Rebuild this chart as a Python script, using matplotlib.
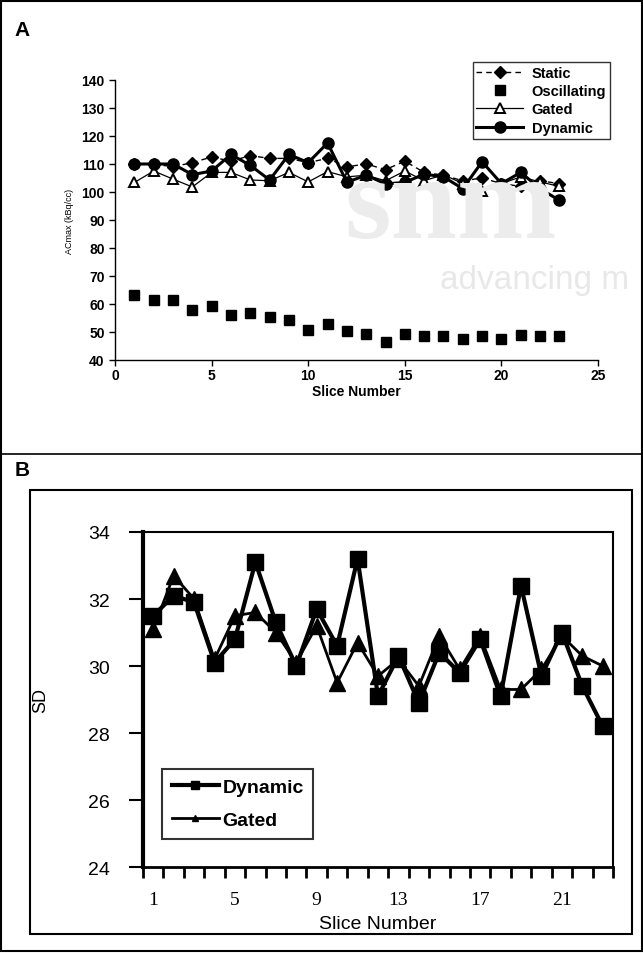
#!/usr/bin/env python3

"""
Two-panel figure: (A) ACmax by slice for four acquisition modes,
(B) SD by slice for dynamic and gated acquisitions.
"""

import numpy as np
from matplotlib import pyplot as plt
from matplotlib.lines import Line2D
from matplotlib.patches import Rectangle

# Panel A data
slices_a = list(range(1, 24))
static = [110, 110, 109, 110.5, 112.5, 111, 113, 112, 112, 110.5, 112, 109,
          110, 108, 111, 107, 106, 104, 105, 103, 102, 104, 103]
oscillating = [63.2, 61.4, 61.4, 57.9, 59.3, 56.1, 56.8, 55.4, 54.3, 50.7, 52.7, 50.4,
               49.3, 46.6, 49.3, 48.4, 48.6, 47.5, 48.6, 47.5, 49.1, 48.4, 48.4]
gated_a = [103.4, 107.5, 104.6, 101.8, 107, 107, 104.3, 104, 107, 103.6, 107.3, 105.4,
           106, 104, 107.5, 104, 106.2, 103, 100.2, 103, 105.4, 103.6, 102]
dynamic_a = [110, 110, 110, 106.2, 107.5, 113.4, 109.5, 104.3, 113.4, 110.5, 117.5, 103.5,
             106, 102.9, 103.4, 106.4, 105.4, 101.2, 110.8, 103, 107, 101.2, 97]

# Panel B data
slices_b = list(range(1, 24))
dynamic_b = [31.5, 32.1, 31.9, 30.1, 30.8, 33.1, 31.3, 30.0, 31.7, 30.6, 33.2, 29.1,
             30.3, 28.9, 30.4, 29.8, 30.8, 29.1, 32.4, 29.7, 31.0, 29.4, 28.2]
gated_b = [31.1, 32.7, 32.0, 30.2, 31.5, 31.6, 31.0, 30.1, 31.2, 29.5, 30.7, 29.7,
           30.2, 29.4, 30.9, 29.9, 30.9, 29.3, 29.3, 29.9, 30.9, 30.3, 30.0]

ARIAL = 'Liberation Sans'
TIMES = 'Liberation Serif'


def main():
    fig = plt.figure(figsize=(6.43, 9.54), dpi=100)

    ## Frames and panel letters
    fig.add_artist(Rectangle((0.002, 0.002), 0.996, 0.996, transform=fig.transFigure,
                             fill=False, lw=1.5, color='black'))
    fig.add_artist(Line2D([0.002, 0.998], [0.523, 0.523], transform=fig.transFigure,
                          lw=1.2, color='black'))
    fig.add_artist(Rectangle((0.047, 0.02), 0.936, 0.465, transform=fig.transFigure,
                             fill=False, lw=1.5, color='black'))
    fig.text(0.022, 0.968, 'A', fontsize=15, fontweight='bold', family=ARIAL, va='center')
    fig.text(0.022, 0.507, 'B', fontsize=15, fontweight='bold', family=ARIAL, va='center')

    ## Watermark
    fig.text(0.535, 0.724, 'snm', fontsize=86, family=TIMES, fontweight='bold',
             color='#ececec', zorder=0, va='bottom')
    fig.text(0.685, 0.7225, 'advancing m', fontsize=24, family=ARIAL,
             color='#e8e8e8', zorder=0, va='top')

    ## Panel A
    ax = fig.add_axes([0.179, 0.6216, 0.751, 0.2935])
    ax.patch.set_alpha(0)
    ax.plot(slices_a, static, color='black', linestyle=(0, (4, 3)), lw=1.0,
            marker='D', markersize=6, label='Static')
    ax.plot(slices_a, oscillating, color='black', linestyle='none',
            marker='s', markersize=6.5, label='Oscillating')
    ax.plot(slices_a, gated_a, color='black', lw=0.9, marker='^', markersize=7.5,
            markerfacecolor='white', markeredgewidth=1.4, label='Gated')
    ax.plot(slices_a, dynamic_a, color='black', lw=2.2, marker='o', markersize=8,
            label='Dynamic')
    ax.set_xlim(0, 25)
    ax.set_ylim(40, 140)
    ax.set_xticks(np.arange(0, 26, 5))
    ax.set_yticks(np.arange(40, 141, 10))
    for side in ('top', 'right'):
        ax.spines[side].set_visible(False)
    ax.spines['left'].set_linewidth(1.0)
    ax.spines['bottom'].set_linewidth(1.0)
    ax.tick_params(direction='out', length=4, width=1.0, labelsize=10)
    ax.tick_params(axis='x', pad=2)
    for lab in ax.get_xticklabels() + ax.get_yticklabels():
        lab.set_fontweight('bold')
        lab.set_family(ARIAL)
    ax.set_xlabel('Slice Number', fontsize=10, fontweight='bold', family=ARIAL, labelpad=1)
    ax.set_ylabel('ACmax (kBq/cc)', fontsize=6.5, family=ARIAL, labelpad=5)
    leg = ax.legend(loc='upper right', bbox_to_anchor=(1.04, 1.09), frameon=True,
                    fancybox=False, edgecolor='black', borderpad=0.25, handlelength=3.2,
                    handletextpad=0.6, labelspacing=0.3,
                    prop={'family': ARIAL, 'weight': 'bold', 'size': 10.5})
    leg.get_frame().set_linewidth(1.0)

    ## Panel B
    bx = fig.add_axes([0.2224, 0.0901, 0.7309, 0.3512])
    bx.plot(slices_b, dynamic_b, color='black', lw=3.0, marker='s', markersize=12,
            label='Dynamic', zorder=3)
    bx.plot(slices_b, gated_b, color='black', lw=2.0, marker='^', markersize=11,
            label='Gated', zorder=4)
    bx.set_xlim(0.5, 23.5)
    bx.set_ylim(24, 34)
    bx.set_yticks(np.arange(24, 35, 2))
    bx.set_xticks([1, 5, 9, 13, 17, 21])
    bx.set_xticks(np.arange(0.5, 24, 1), minor=True)
    bx.tick_params(axis='x', which='major', length=0, labelsize=14, pad=17)
    bx.tick_params(axis='x', which='minor', direction='out', length=8, width=2.0)
    bx.tick_params(axis='y', direction='out', length=10, width=1.5, labelsize=14, pad=14)
    for lab in bx.get_xticklabels():
        lab.set_family(TIMES)
    for lab in bx.get_yticklabels():
        lab.set_family(ARIAL)
    bx.spines['left'].set_linewidth(3.0)
    bx.spines['bottom'].set_linewidth(2.0)
    bx.spines['top'].set_linewidth(1.5)
    bx.spines['right'].set_linewidth(1.5)
    bx.set_xlabel('Slice Number', fontsize=14, family=ARIAL, labelpad=5)
    bx.set_ylabel('SD', fontsize=13, family=ARIAL, labelpad=28)
    leg2 = bx.legend(loc='lower left', bbox_to_anchor=(0.02, 0.055), frameon=True,
                     fancybox=False, edgecolor='black', borderpad=0.5, handlelength=2.4,
                     handletextpad=0.2, labelspacing=0.8, markerscale=0.45,
                     prop={'family': ARIAL, 'weight': 'bold', 'size': 14})
    leg2.get_frame().set_linewidth(1.5)

    fig.savefig('out.png', dpi=100)


if __name__ == "__main__":
    main()
